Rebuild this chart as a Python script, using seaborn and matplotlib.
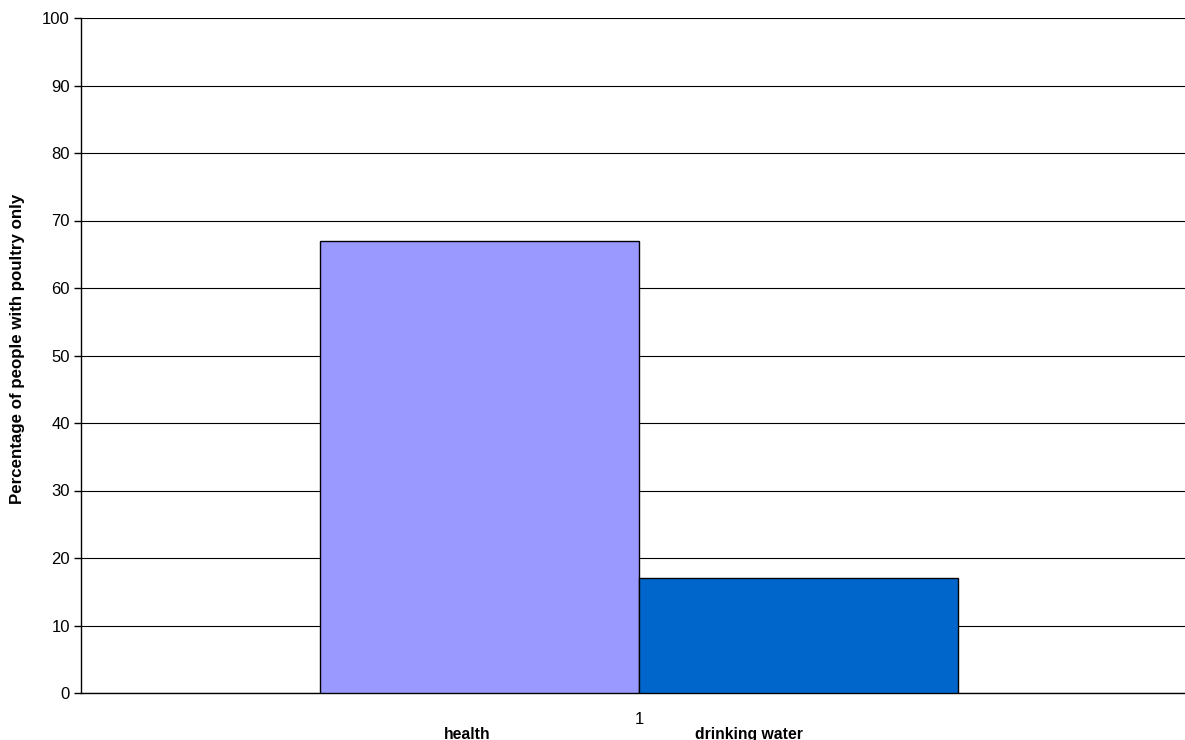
import pandas as pd
import seaborn as sns
import matplotlib.pyplot as plt

# Datos
categorias = ["1"]
series = ["health", "drinking water"]
valores = [67, 17]
colores = ["#9999FF", "#0066CC"]
ticks_y = list(range(0, 101, 10))

df = pd.DataFrame({
    "categoria": categorias * len(series),
    "serie": series,
    "valor": valores,
})

sns.set_theme(style="white")
plt.rcParams["font.family"] = ["Liberation Sans", "DejaVu Sans"]
plt.rcParams["text.color"] = "black"
plt.rcParams["xtick.color"] = "black"
plt.rcParams["ytick.color"] = "black"

fig = plt.figure(figsize=(11.85, 7.4), dpi=100)
ax = fig.add_axes([81 / 1185, 47 / 740, 1116 / 1185, 675 / 740])

sns.barplot(data=df, x="categoria", y="valor", hue="serie", palette=colores,
            width=0.572, edgecolor="black", linewidth=1, saturation=1,
            legend=False, ax=ax, zorder=3)

ax.set_ylim(0, 100)
ax.set_xlim(-0.5, 0.5)
ax.set_yticks(ticks_y)
ax.yaxis.grid(True, color="black", linewidth=0.8, zorder=0)
ax.set_axisbelow(True)
for s in ["top", "right"]:
    ax.spines[s].set_visible(False)
for s in ["left", "bottom"]:
    ax.spines[s].set_color("black")
    ax.spines[s].set_linewidth(1)

ax.tick_params(axis="y", direction="out", length=5, width=1, colors="black",
               labelsize=12, pad=3, left=True)
ax.tick_params(axis="x", length=0, labelsize=12, pad=14, colors="black")
ax.set_xlabel("")
ax.set_ylabel("")

fig.text(18 / 1185, (740 - 349) / 740, "Percentage of people with poultry only",
         rotation=90, ha="center", va="center", fontsize=12.2, fontweight="bold")

# leyenda abajo, como en Excel (cortada por el borde)
for nombre, xc in zip(series, [467, 749]):
    fig.text(xc / 1185, (740 - 727) / 740, nombre, ha="center", va="top",
             fontsize=11.3, fontweight="bold")

plt.savefig("out.png", dpi=100)
